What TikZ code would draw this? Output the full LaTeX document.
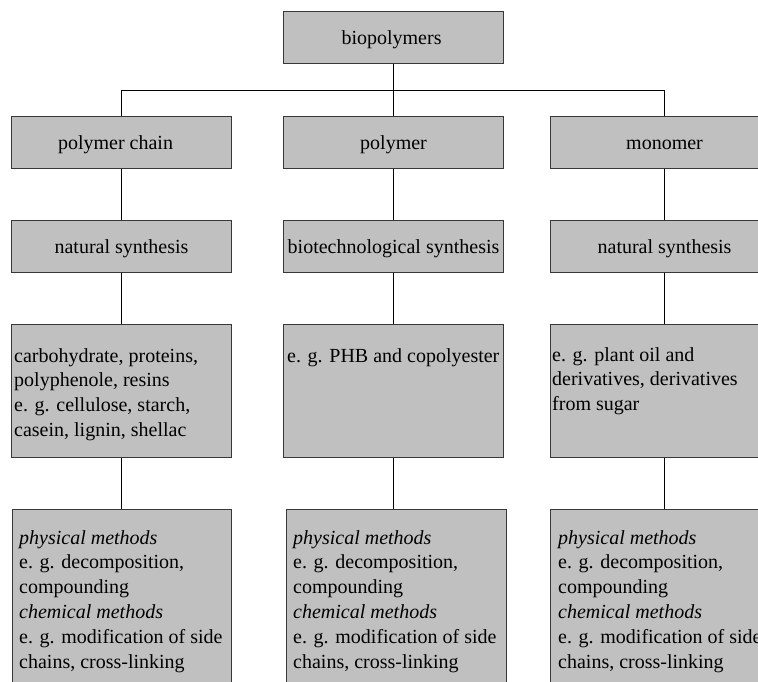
\documentclass[tikz,border=0pt]{standalone}
\usepackage{fontspec}
\setmainfont{Liberation Serif}
\newfontfamily\tnr{Liberation Serif}
\definecolor{boxfill}{HTML}{C0C0C0}
\definecolor{boxline}{HTML}{383838}
\tikzset{
  box/.style={draw=boxline, fill=boxfill, line width=1.1pt, inner sep=0pt, anchor=north west,
    font=\tnr\fontsize{20}{24.8}\selectfont, text height=16pt, text depth=2pt},
  link/.style={draw=black, line width=0.9pt},
  txt/.style={anchor=base west, inner sep=0pt, font=\tnr\fontsize{20}{24.8}\selectfont}
}
\begin{document}
\begin{tikzpicture}[x=1pt,y=-1pt]
\useasboundingbox (0,0) rectangle (758,681);
\clip (0,0) rectangle (758,681);
% row 1
\node[box, minimum width=220pt, minimum height=52pt] (top) at (283,11) {biopolymers\hspace*{4pt}};
% row 2
\node[box, minimum width=220pt, minimum height=52pt] (pc) at (11,116) {polymer chain\hspace*{12pt}};
\node[box, minimum width=220pt, minimum height=52pt] (pm) at (283,116) {polymer};
\node[box, minimum width=228pt, minimum height=52pt] (mo) at (550,116) {monomer};
% row 3
\node[box, minimum width=220pt, minimum height=52pt] (s1) at (11,220) {natural synthesis};
\node[box, minimum width=220pt, minimum height=52pt] (s2) at (283,220) {biotechnological synthesis};
\node[box, minimum width=228pt, minimum height=52pt] (s3) at (550,220) {natural synthesis};
% row 4
\node[box, minimum width=220pt, minimum height=133pt] (e1) at (11,324) {};
\node[box, minimum width=220pt, minimum height=133pt] (e2) at (283,324) {};
\node[box, minimum width=228pt, minimum height=133pt] (e3) at (550,324) {};
\node[txt] (e1t) at (14,362) {\parbox[t]{215pt}{\raggedright carbohydrate, proteins,\\ polyphenole, resins\\ e. g. cellulose, starch,\\ casein, lignin, shellac}};
\node[txt] (e2t) at (287,362) {\parbox[t]{215pt}{\raggedright e. g. PHB and copolyester}};
\node[txt] (e3t) at (552,361) {\parbox[t]{215pt}{\raggedright e. g. plant oil and\\ derivatives, derivatives\\ from sugar}};
% row 5
\node[box, minimum width=219pt, minimum height=200pt] (m1) at (12,509) {};
\node[box, minimum width=220pt, minimum height=200pt] (m2) at (286,509) {};
\node[box, minimum width=228pt, minimum height=200pt] (m3) at (550,509) {};
\node[txt] (m1t) at (19,544) {\parbox[t]{215pt}{\raggedright \textit{physical methods}\\ e. g. decomposition,\\ compounding\\ \textit{chemical methods}\\ e. g. modification of side\\ chains, cross-linking}};
\node[txt] (m2t) at (293,544) {\parbox[t]{215pt}{\raggedright \textit{physical methods}\\ e. g. decomposition,\\ compounding\\ \textit{chemical methods}\\ e. g. modification of side\\ chains, cross-linking}};
\node[txt] (m3t) at (558,544) {\parbox[t]{215pt}{\raggedright \textit{physical methods}\\ e. g. decomposition,\\ compounding\\ \textit{chemical methods}\\ e. g. modification of side\\ chains, cross-linking}};
% connectors
\coordinate (hb) at (0,90);
\draw[link] (top.south) -- (pm.north);
\draw[link] (pc.north) -- (pc.north |- hb) -- (mo.north |- hb) -- (mo.north);
\draw[link] (pc.south) -- (s1.north);
\draw[link] (pm.south) -- (s2.north);
\draw[link] (mo.south) -- (s3.north);
\draw[link] (s1.south) -- (e1.north);
\draw[link] (s2.south) -- (e2.north);
\draw[link] (s3.south) -- (e3.north);
\draw[link] (e1.south) -- (e1.south |- m1.north);
\draw[link] (e2.south) -- (e2.south |- m2.north);
\draw[link] (e3.south) -- (e3.south |- m3.north);
\end{tikzpicture}
\end{document}
